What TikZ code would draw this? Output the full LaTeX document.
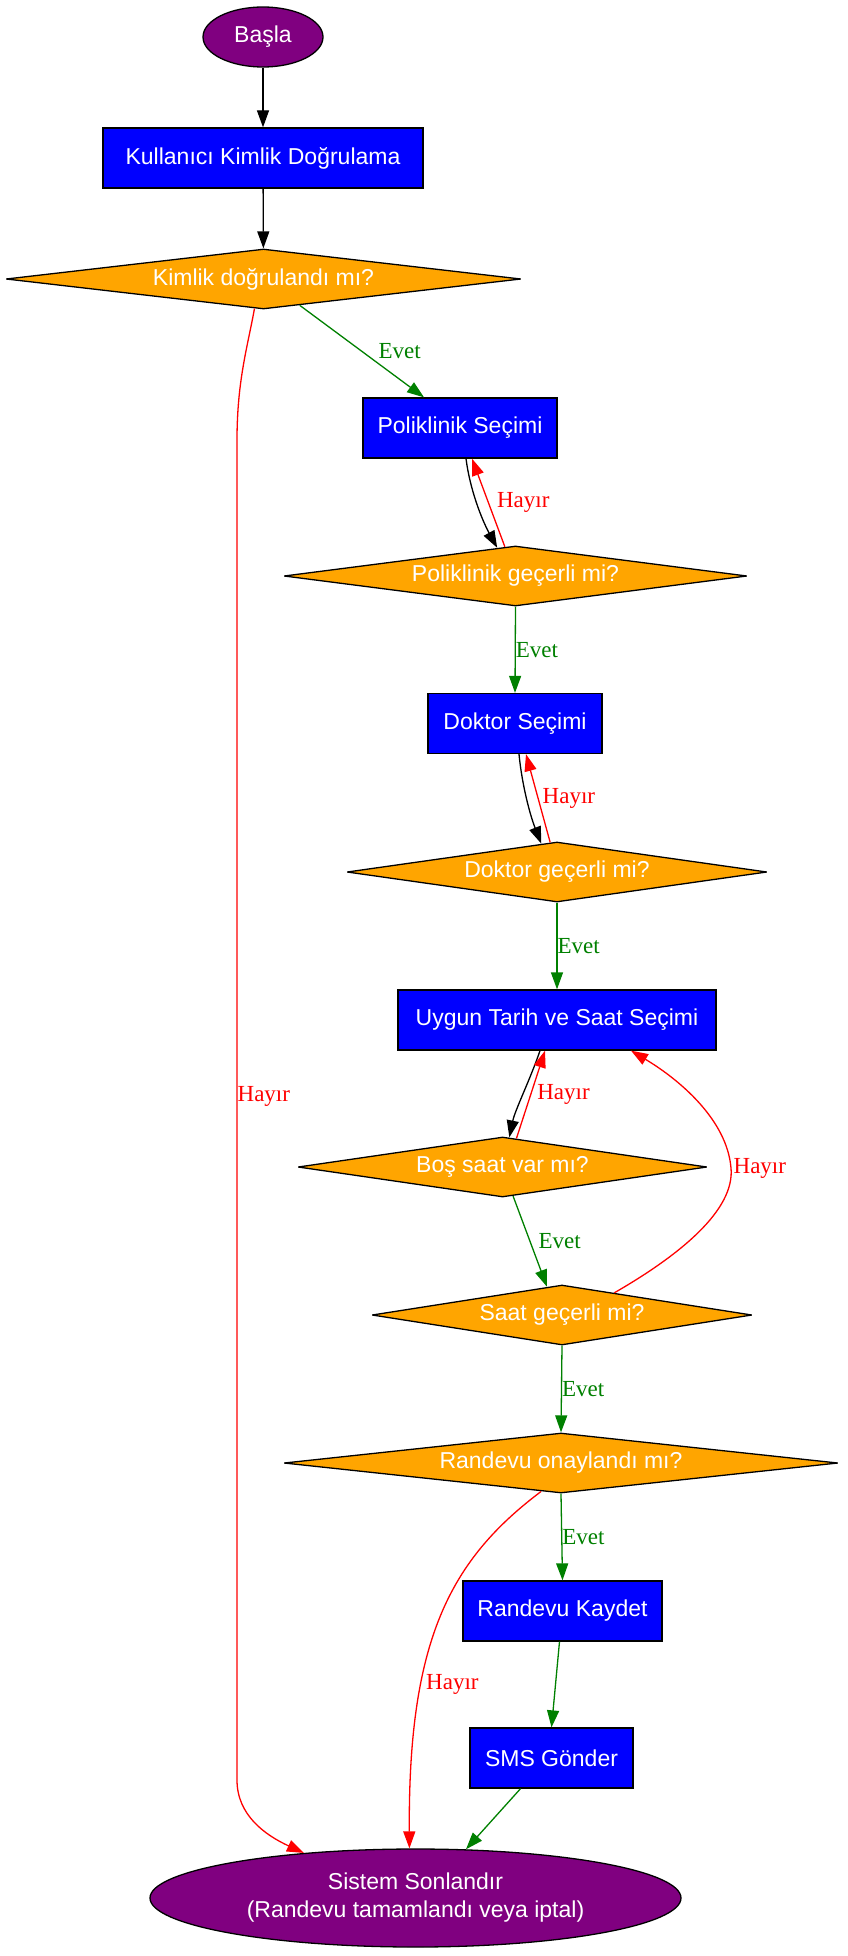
\documentclass[tikz,border=0pt]{standalone}
\usepackage{fontspec}
\setmainfont{Liberation Serif}
\setsansfont{Liberation Sans}
\usetikzlibrary{shapes.geometric,arrows.meta}
\definecolor{tpurple}{RGB}{128,0,128}
\definecolor{tblue}{RGB}{0,0,255}
\definecolor{torange}{RGB}{255,165,0}
\definecolor{cgreen}{RGB}{0,128,0}
\definecolor{cred}{RGB}{255,0,0}
\begin{document}
\begin{tikzpicture}[x=1pt,y=-1pt,
  base/.style={draw=black, line width=1.3pt, text=white, font=\sffamily\fontsize{23}{28}\selectfont, inner sep=0pt, align=center},
  term/.style={base, ellipse, fill=tpurple},
  proc/.style={base, rectangle, fill=tblue},
  dec/.style={base, diamond, fill=torange, aspect=9, miter limit=3},
  conn/.style={line width=1.3pt, -{Triangle[length=17pt,width=12pt]}},
  lbl/.style={font=\rmfamily\fontsize{23}{28}\selectfont, inner sep=0pt, anchor=west},
  yes/.style={conn, draw=cgreen},
  no/.style={conn, draw=cred},
  ylbl/.style={lbl, text=cgreen},
  nlbl/.style={lbl, text=cred}]
\useasboundingbox (0,0) rectangle (848,1956);

\node[term, minimum width=120pt, minimum height=60pt] (start) at (263,37) {Başla};
\node[proc, minimum width=320pt, minimum height=60pt] (auth) at (263,158) {Kullanıcı Kimlik Doğrulama};
\node[dec, minimum width=515pt, minimum height=60pt] (q1) at (263.5,279) {\makebox[0pt]{Kimlik doğrulandı mı?}};
\node[proc, minimum width=194pt, minimum height=60pt] (pol) at (460,428) {Poliklinik Seçimi};
\node[dec, minimum width=463pt, minimum height=60pt] (q2) at (515.5,576) {\makebox[0pt]{Poliklinik geçerli mi?}};
\node[proc, minimum width=174pt, minimum height=60pt] (doc) at (515,723.5) {Doktor Seçimi};
\node[dec, minimum width=420pt, minimum height=60pt] (q3) at (557,872) {\makebox[0pt]{Doktor geçerli mi?}};
\node[proc, minimum width=318pt, minimum height=60pt] (date) at (557,1020) {Uygun Tarih ve Saat Seçimi};
\node[dec, minimum width=409pt, minimum height=60pt] (q4) at (502.5,1167) {\makebox[0pt]{Boş saat var mı?}};
\node[dec, minimum width=380pt, minimum height=60pt] (q5) at (562,1315) {\makebox[0pt]{Saat geçerli mi?}};
\node[dec, minimum width=554pt, minimum height=60pt] (q6) at (561,1463) {\makebox[0pt]{Randevu onaylandı mı?}};
\node[proc, minimum width=199pt, minimum height=60pt] (save) at (562.5,1611) {Randevu Kaydet};
\node[proc, minimum width=163pt, minimum height=60pt] (sms) at (551.5,1758) {SMS Gönder};
\node[term, minimum width=531pt, minimum height=98pt] (end) at (415.5,1898) {Sistem Sonlandır\\(Randevu tamamlandı veya iptal)};

\draw[conn] (start) -- (auth);
\draw[conn] (auth) -- (q1);

\draw[yes] (q1.-36) -- node[ylbl, pos=.5, xshift=16pt] {Evet} ([xshift=-36pt]pol.north);
\draw[no] (q1.-107) .. controls (248,345) and (237,380) .. (237,440)
   -- node[nlbl, pos=.49] {Hayır} (237,1780)
   .. controls (237,1815) and (265,1835) .. (end.158);

\draw[conn] ([xshift=6pt]pol.south) .. controls (470,490) and (482,520) .. (q2.123);
\draw[no] (q2.110) -- node[nlbl, pos=.5, xshift=8pt] {Hayır} ([xshift=12pt]pol.south);
\draw[yes] (q2.south) -- node[ylbl, pos=.5] {Evet} (doc.north);

\draw[conn] ([xshift=4pt]doc.south) .. controls (522,785) and (530,815) .. (q3.119);
\draw[no] (q3.103) -- node[nlbl, pos=.5, xshift=4pt] {Hayır} ([xshift=11pt]doc.south);
\draw[yes] (q3.south) -- node[ylbl, pos=.5] {Evet} (date.north);

\draw[conn] ([xshift=-17pt]date.south) .. controls (530,1080) and (515,1110) .. (q4.77);
\draw[no] (q4.64) -- node[nlbl, pos=.5, xshift=6pt] {Hayır} ([xshift=-12pt]date.south);
\draw[yes] (q4.-70) -- node[ylbl, pos=.5, xshift=8pt] {Evet} (q5.118);

\draw[no] (q5.23) .. controls (680,1255) and (735,1210) .. (731,1168)
   node[nlbl, xshift=2pt] {Hayır}
   .. controls (727,1120) and (680,1080) .. ([xshift=74pt]date.south);
\draw[yes] (q5.south) -- node[ylbl, pos=.5] {Evet} (q6.north);

\draw[yes] (q6.south) -- node[ylbl, pos=.5] {Evet} (save.north);
\draw[no] (q6.-125) .. controls (450,1560) and (408,1640) .. node[nlbl, pos=.68, xshift=4pt] {Hayır} (end.97);

\draw[yes] ([xshift=-3pt]save.south) -- (sms.north);
\draw[yes] ([xshift=-31pt]sms.south) -- (end.44);
\end{tikzpicture}
\end{document}
